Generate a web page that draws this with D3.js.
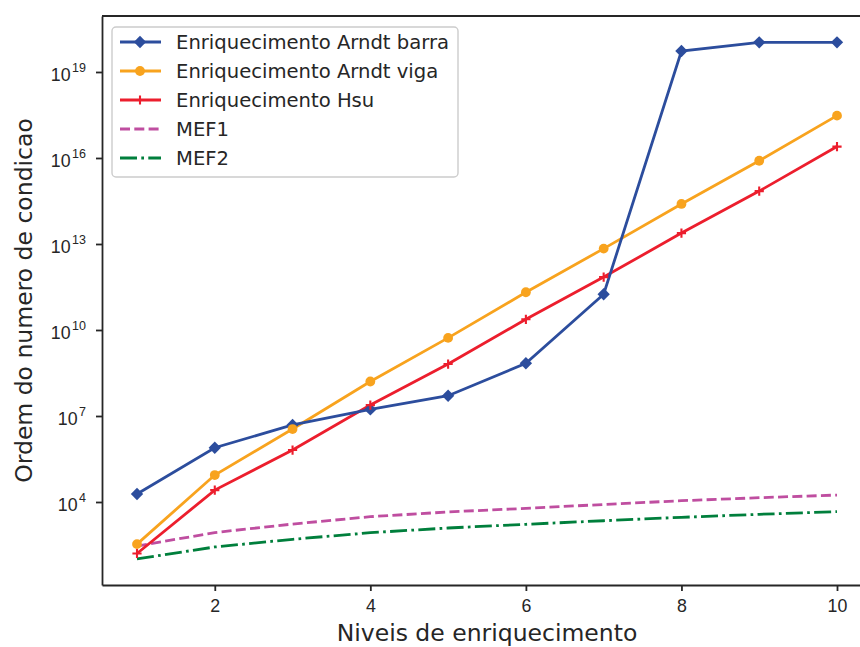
<!DOCTYPE html>
<html>
<head>
  <meta charset="utf-8">
  <style>
    body { margin: 0; background: #fff; }
    svg { display: block; font-family: "DejaVu Sans", sans-serif; }
    .axis text { fill: #262626; }
    .axis path, .axis line { stroke: #262626; }
  </style>
</head>
<body>
  <svg width="860" height="647"></svg>
  <script src="https://cdn.jsdelivr.net/npm/d3@7"></script>
  <script>

  // niveis de enriquecimento
  var niveis = [1, 2, 3, 4, 5, 6, 7, 8, 9, 10];

  // ordem do numero de condicao
  var arndtBarra = [1.9e4, 7.8e5, 4.9e6, 1.7e7, 5.1e7, 6.9e8, 1.76e11, 5.4e19, 1.08e20, 1.08e20];
  var arndtViga  = [3.4e2, 8.7e4, 3.5e6, 1.6e8, 5.3e9, 2.07e11, 6.9e12, 2.5e14, 8.0e15, 3.0e17];
  var hsu        = [1.6e2, 2.6e4, 6.5e5, 2.4e7, 6.5e8, 2.36e10, 7.0e11, 2.4e13, 7.0e14, 2.5e16];
  var mef1       = [2.9e2, 8.6e2, 1.7e3, 3.07e3, 4.5e3, 6.0e3, 8.2e3, 1.11e4, 1.41e4, 1.75e4];
  var mef2       = [1.03e2, 2.7e2, 5.0e2, 8.5e2, 1.24e3, 1.67e3, 2.22e3, 2.92e3, 3.72e3, 4.6e3];

  var xTicks = [2, 4, 6, 8, 10];
  var yTickExp = [4, 7, 10, 13, 16, 19];

  var series = [
    {name: "Enriquecimento Arndt barra", values: arndtBarra, color: "#2c4d9d", marker: "diamond", dash: null},
    {name: "Enriquecimento Arndt viga",  values: arndtViga,  color: "#f8a31e", marker: "circle",  dash: null},
    {name: "Enriquecimento Hsu",         values: hsu,        color: "#ec1e2d", marker: "plus",    dash: null},
    {name: "MEF1",                       values: mef1,       color: "#bf4ea0", marker: null,      dash: "10,4.3"},
    {name: "MEF2",                       values: mef2,       color: "#007f3c", marker: null,      dash: "17,4.3,2.7,4.3"}
  ];

  var svg = d3.select("svg"),
      margin = {top: 16, left: 102},
      plotW = 770,
      plotH = 569,
      g = svg.append("g").attr("transform", "translate(" + margin.left + "," + margin.top + ")");

  var x = d3.scaleLinear().domain([0.55, 10.45]).range([0, plotW]);
  var y = d3.scaleLog().domain([Math.pow(10, 1.1047), Math.pow(10, 20.953)]).range([plotH, 0]);

  // eixos
  var xAxis = g.append("g")
    .attr("class", "axis")
    .attr("transform", "translate(0," + plotH + ")")
    .call(d3.axisBottom(x).tickValues(xTicks).tickSizeInner(6).tickSizeOuter(0).tickPadding(8)
      .tickFormat(d3.format("d")));
  xAxis.selectAll("text").style("font-size", "17.8px");

  var yAxis = g.append("g")
    .attr("class", "axis")
    .call(d3.axisLeft(y).tickValues(yTickExp.map(function(e) { return Math.pow(10, e); }))
      .tickSizeInner(6).tickSizeOuter(0).tickFormat(""));

  yAxis.selectAll(".tick").each(function(d, i) {
    var t = d3.select(this).append("text")
      .attr("x", -16)
      .attr("y", 8.7)
      .attr("text-anchor", "end")
      .attr("fill", "#262626")
      .style("font-size", "17.8px");
    t.append("tspan").text("10");
    t.append("tspan").attr("dy", -9).attr("dx", 1.5).style("font-size", "12.5px").text(yTickExp[i]);
  });

  g.selectAll(".axis path").attr("stroke-width", 1.8);
  g.selectAll(".axis line").attr("stroke-width", 1.8);

  // borda superior
  g.append("line")
    .attr("x1", 0).attr("x2", plotW).attr("y1", 0).attr("y2", 0)
    .attr("stroke", "#262626").attr("stroke-width", 1.8);

  // rotulos
  svg.append("text")
    .attr("x", margin.left + plotW / 2)
    .attr("y", 640.5)
    .attr("text-anchor", "middle")
    .attr("fill", "#262626")
    .style("font-size", "23.5px")
    .text("Niveis de enriquecimento");

  svg.append("text")
    .attr("transform", "translate(31.5," + (margin.top + plotH / 2) + ") rotate(-90)")
    .attr("text-anchor", "middle")
    .attr("fill", "#262626")
    .style("font-size", "23.5px")
    .text("Ordem do numero de condicao");

  var line = d3.line()
    .x(function(d, i) { return x(niveis[i]); })
    .y(function(d) { return y(d); });

  function drawMarker(sel, type, color) {
    if (type === "diamond") {
      sel.append("path")
        .attr("d", d3.symbol(d3.symbolSquare, 76)())
        .attr("transform", "rotate(45)")
        .attr("fill", color);
    } else if (type === "circle") {
      sel.append("circle").attr("r", 4.9).attr("fill", color);
    } else if (type === "plus") {
      sel.append("path")
        .attr("d", "M-4.6,0H4.6M0,-4.6V4.6")
        .attr("stroke", color).attr("stroke-width", 2.1);
    }
  }

  // series (ordem inversa para desenhar como no original)
  series.slice().reverse().forEach(function(s) {
    g.append("path")
      .attr("d", line(s.values))
      .attr("fill", "none")
      .attr("stroke", s.color)
      .attr("stroke-width", 2.8)
      .attr("stroke-dasharray", s.dash);
  });
  series.forEach(function(s) {
    if (!s.marker) return;
    g.selectAll(null).data(s.values).enter().append("g")
      .attr("transform", function(d, i) { return "translate(" + x(niveis[i]) + "," + y(d) + ")"; })
      .each(function() { drawMarker(d3.select(this), s.marker, s.color); });
  });

  // legenda
  var leg = svg.append("g").attr("transform", "translate(112,27)");
  leg.append("rect")
    .attr("width", 346).attr("height", 150)
    .attr("rx", 4)
    .attr("fill", "#fff").attr("fill-opacity", 0.8)
    .attr("stroke", "#cccccc").attr("stroke-width", 1.4);

  series.forEach(function(s, i) {
    var row = leg.append("g").attr("transform", "translate(0," + (15 + i * 29) + ")");
    row.append("line")
      .attr("x1", 8).attr("x2", 49)
      .attr("stroke", s.color).attr("stroke-width", 2.8)
      .attr("stroke-dasharray", s.dash);
    if (s.marker) drawMarker(row.append("g").attr("transform", "translate(28,0)"), s.marker, s.color);
    row.append("text")
      .attr("x", 64).attr("y", 7.4)
      .attr("fill", "#262626")
      .style("font-size", "19.6px")
      .text(s.name);
  });

  </script>
</body>
</html>
